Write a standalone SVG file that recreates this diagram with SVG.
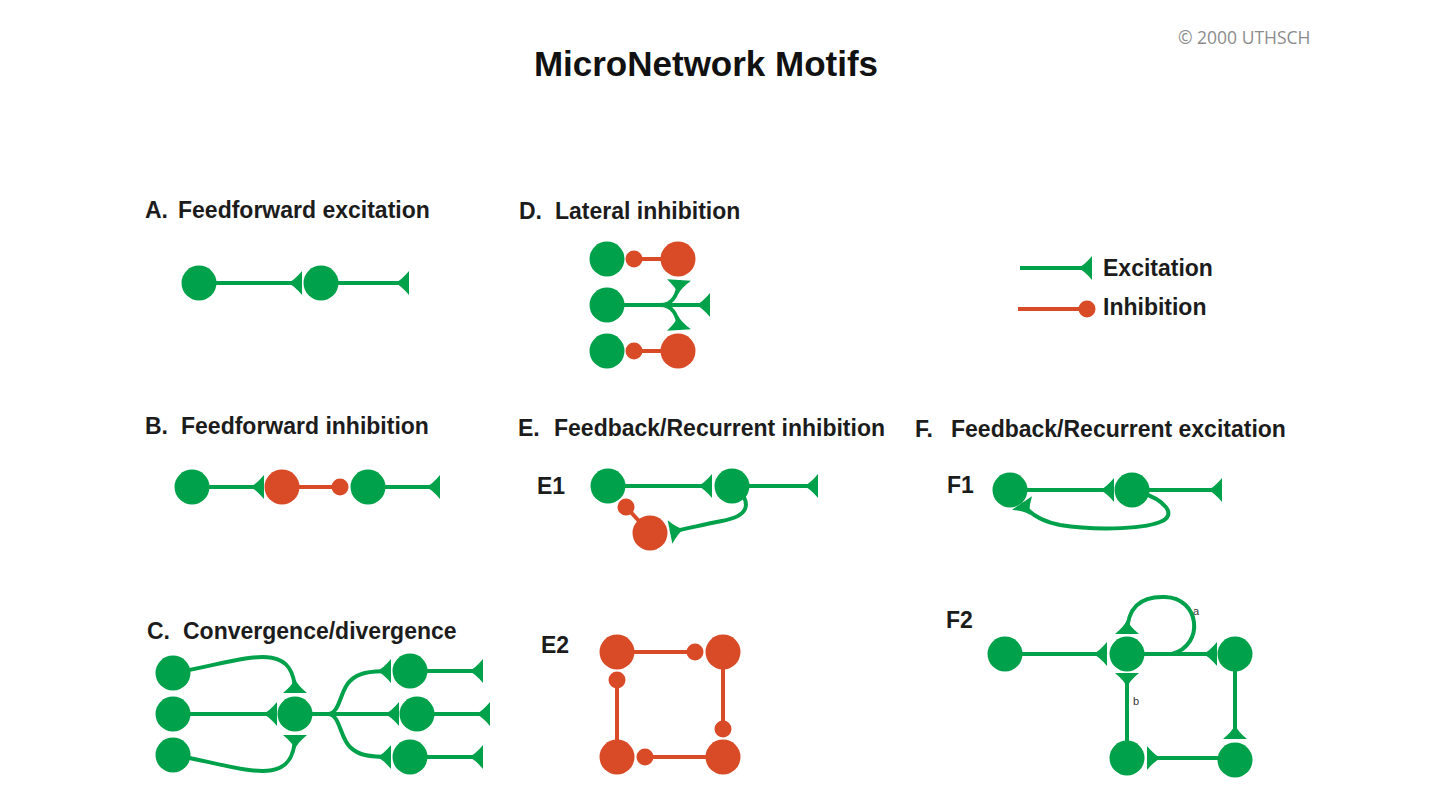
<svg xmlns="http://www.w3.org/2000/svg" width="1440" height="810" viewBox="0 0 1440 810">
<defs>
<style>
.t{font-family:"Liberation Sans",Arial,sans-serif;font-weight:bold;font-size:23px;fill:#1c1c1c}
.h{font-family:"Liberation Sans",Arial,sans-serif;font-weight:bold;font-size:35px;fill:#111}
.s{font-family:"Liberation Sans",Arial,sans-serif;font-size:11px;fill:#333}
.cp{font-family:"Open Sans","Liberation Sans",sans-serif;font-size:17.5px;fill:#8c8c8c}
.g{fill:#00a14b}
.r{fill:#d94a27}
.eg{fill:none;stroke:#00a14b;stroke-width:4;marker-end:url(#exc)}
.ir{fill:none;stroke:#d94a27;stroke-width:4;marker-end:url(#inh)}
</style>
<marker id="exc" markerUnits="userSpaceOnUse" markerWidth="15" markerHeight="25" viewBox="0 0 15 25" refX="14" refY="12.5" orient="auto">
<path d="M14,0.5 Q6,10 0,12.5 Q6,15 14,24.5 Z" fill="#00a14b"/>
</marker>
<marker id="inh" markerUnits="userSpaceOnUse" markerWidth="20" markerHeight="20" viewBox="0 0 20 20" refX="10" refY="10" orient="auto">
<circle cx="10" cy="10" r="8.5" fill="#d94a27"/>
</marker>
</defs>
<rect width="1440" height="810" fill="#ffffff"/>

<g id="titles">
<text class="h" x="706" y="76" text-anchor="middle">MicroNetwork Motifs</text>
<text class="cp" x="1178" y="44">© 2000 UTHSCH</text>
<text class="t" y="218"><tspan x="145">A.</tspan><tspan x="178">Feedforward excitation</tspan></text>
<text class="t" y="434"><tspan x="145">B.</tspan><tspan x="181">Feedforward inhibition</tspan></text>
<text class="t" y="639"><tspan x="147">C.</tspan><tspan x="183">Convergence/divergence</tspan></text>
<text class="t" y="219"><tspan x="519">D.</tspan><tspan x="555">Lateral inhibition</tspan></text>
<text class="t" y="436"><tspan x="518">E.</tspan><tspan x="554">Feedback/Recurrent inhibition</tspan></text>
<text class="t" y="437"><tspan x="915">F.</tspan><tspan x="951">Feedback/Recurrent excitation</tspan></text>
<text class="t" x="537" y="494">E1</text>
<text class="t" x="541" y="653">E2</text>
<text class="t" x="947" y="493">F1</text>
<text class="t" x="946" y="628">F2</text>
<text class="s" x="1193" y="615">a</text>
<text class="s" x="1133" y="705">b</text>
<text class="t" x="1103" y="276">Excitation</text>
<text class="t" x="1103" y="315">Inhibition</text>
</g>

<g id="connectors">
<path class="eg" d="M199,283 L302,283"/>
<path class="eg" d="M321,283 L409,283"/>
<path class="eg" d="M192,487 L264,487"/>
<path class="ir" d="M282,487 L340,487"/>
<path class="eg" d="M368,487 L440,487"/>
<path class="eg" d="M173,673 C240,662 295,635 295,693"/>
<path class="eg" d="M173,714 L277,714"/>
<path class="eg" d="M173,755 C240,766 295,793 295,735"/>
<path class="eg" d="M295,714 L399,714"/>
<path class="eg" d="M328,714 C340,714 340,690 350,681 C358,673 368,671 391,671"/>
<path class="eg" d="M328,714 C340,714 340,738 350,747 C358,755 368,757 391,757"/>
<path class="eg" d="M410,671 L483,671"/>
<path class="eg" d="M417,714 L490,714"/>
<path class="eg" d="M410,757 L483,757"/>
<path class="ir" d="M678,259 L634,259"/>
<path class="ir" d="M678,351 L634,351"/>
<path class="eg" d="M607,305 L710,305"/>
<path class="eg" d="M660,305 C670,305 678,298 679,280"/>
<path class="eg" d="M660,305 C670,305 678,312 679,330"/>
<path class="eg" d="M608,486 L712,486"/>
<path class="eg" d="M732,486 L818,486"/>
<path class="ir" d="M650,533 L626,507"/>
<path class="eg" d="M738,488 C752,505 748,516 722,521 C705,524 690,528 670,532"/>
<path class="ir" d="M617,652 L695,652"/>
<path class="ir" d="M723,652 L723,729"/>
<path class="ir" d="M723,757 L645,757"/>
<path class="ir" d="M617,757 L617,680"/>
<path class="eg" d="M1010,490 L1114,490"/>
<path class="eg" d="M1132,490 L1222,490"/>
<path class="eg" d="M1140,492 C1165,500 1178,515 1160,522 C1140,530 1090,530 1060,525 C1045,522 1030,515 1022,503"/>
<path class="eg" d="M1005,654 L1107,654"/>
<path class="eg" d="M1127,654 L1217,654"/>
<path class="eg" d="M1172,654 C1205,645 1200,598 1165,597 C1140,596 1127,608 1127,634"/>
<path class="eg" d="M1235,654 L1235,739"/>
<path class="eg" d="M1235,758 L1147,758"/>
<path class="eg" d="M1127,758 L1127,673"/>
<path class="eg" d="M1020,268 L1092,268"/>
<path class="ir" d="M1018,309 L1087,309"/>
</g>

<g id="nodes">
<g id="A1"><circle class="g" cx="199" cy="283" r="17.5"/></g>
<g id="A2"><circle class="g" cx="321" cy="283" r="17.5"/></g>
<g id="B1"><circle class="g" cx="192" cy="487" r="17.5"/></g>
<g id="B2"><circle class="r" cx="282" cy="487" r="17.5"/></g>
<g id="B3"><circle class="g" cx="368" cy="487" r="17.5"/></g>
<g id="C1"><circle class="g" cx="173" cy="673" r="17.5"/></g>
<g id="C2"><circle class="g" cx="173" cy="714" r="17.5"/></g>
<g id="C3"><circle class="g" cx="173" cy="755" r="17.5"/></g>
<g id="C4"><circle class="g" cx="295" cy="714" r="17.5"/></g>
<g id="C5"><circle class="g" cx="410" cy="671" r="17.5"/></g>
<g id="C6"><circle class="g" cx="417" cy="714" r="17.5"/></g>
<g id="C7"><circle class="g" cx="410" cy="757" r="17.5"/></g>
<g id="D1"><circle class="g" cx="607" cy="259" r="17.5"/></g>
<g id="D2"><circle class="g" cx="607" cy="305" r="17.5"/></g>
<g id="D3"><circle class="g" cx="607" cy="351" r="17.5"/></g>
<g id="D4"><circle class="r" cx="678" cy="259" r="17.5"/></g>
<g id="D5"><circle class="r" cx="678" cy="351" r="17.5"/></g>
<g id="E1a"><circle class="g" cx="608" cy="486" r="17.5"/></g>
<g id="E1b"><circle class="g" cx="732" cy="486" r="17.5"/></g>
<g id="E1c"><circle class="r" cx="650" cy="533" r="17.5"/></g>
<g id="E2a"><circle class="r" cx="617" cy="652" r="17.5"/></g>
<g id="E2b"><circle class="r" cx="723" cy="652" r="17.5"/></g>
<g id="E2c"><circle class="r" cx="617" cy="757" r="17.5"/></g>
<g id="E2d"><circle class="r" cx="723" cy="757" r="17.5"/></g>
<g id="F1a"><circle class="g" cx="1010" cy="490" r="17.5"/></g>
<g id="F1b"><circle class="g" cx="1132" cy="490" r="17.5"/></g>
<g id="F2a"><circle class="g" cx="1005" cy="654" r="17.5"/></g>
<g id="F2b"><circle class="g" cx="1127" cy="654" r="17.5"/></g>
<g id="F2c"><circle class="g" cx="1235" cy="654" r="17.5"/></g>
<g id="F2d"><circle class="g" cx="1127" cy="758" r="17.5"/></g>
<g id="F2e"><circle class="g" cx="1235" cy="760" r="17.5"/></g>
</g>
</svg>
